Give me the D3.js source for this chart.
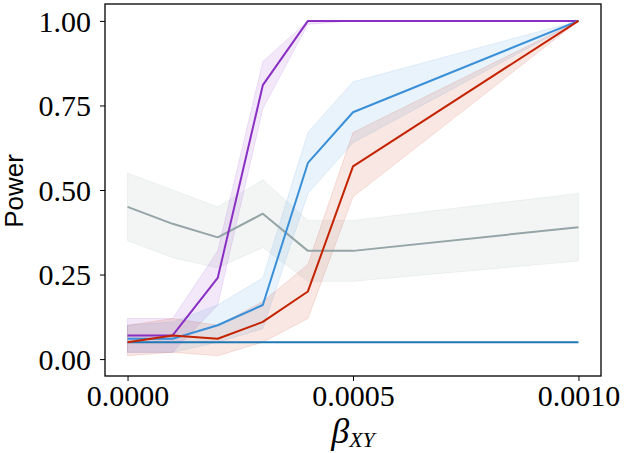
<!DOCTYPE html>
<html>
<head>
<meta charset="utf-8">
<script src="https://cdn.jsdelivr.net/npm/d3@7"></script>
<style>
  body { margin: 0; background: #fff; }
  .tick text { font-family: "Liberation Serif", serif; font-size: 30px; fill: #000; }
</style>
</head>
<body>
<svg id="chart" width="625" height="453"></svg>
<script>
'use strict';

var betas = [0, 0.0001, 0.0002, 0.0003, 0.0004, 0.0005, 0.001];
var xTicks = [0, 0.0005, 0.001];
var yTicks = [0, 0.25, 0.5, 0.75, 1];

var nullPower = [0.05, 0.05, 0.05, 0.05, 0.05, 0.05, 0.05];

var purpleMean = [0.07, 0.07, 0.24, 0.81, 1.0, 1.0, 1.0];
var purpleLow  = [0.02, 0.02, 0.16, 0.74, 0.99, 1.0, 1.0];
var purpleHigh = [0.12, 0.12, 0.32, 0.88, 1.0, 1.0, 1.0];

var blueMean = [0.06, 0.06, 0.10, 0.16, 0.58, 0.73, 1.0];
var blueLow  = [0.02, 0.02, 0.05, 0.09, 0.49, 0.64, 1.0];
var blueHigh = [0.10, 0.11, 0.16, 0.24, 0.67, 0.82, 1.0];

var redMean = [0.05, 0.07, 0.06, 0.11, 0.20, 0.57, 1.0];
var redLow  = [0.01, 0.02, 0.01, 0.05, 0.12, 0.48, 1.0];
var redHigh = [0.10, 0.12, 0.10, 0.17, 0.28, 0.67, 1.0];

var grayMean = [0.45, 0.40, 0.36, 0.43, 0.32, 0.32, 0.39];
var grayLow  = [0.35, 0.30, 0.27, 0.33, 0.23, 0.23, 0.29];
var grayHigh = [0.55, 0.50, 0.45, 0.53, 0.41, 0.41, 0.49];

var series = [
  { mean: grayMean, low: grayLow, high: grayHigh, color: "#95a5a6" },
  { mean: nullPower, color: "#1f77b4" },
  { mean: purpleMean, low: purpleLow, high: purpleHigh, color: "#8a2ec4" },
  { mean: blueMean, low: blueLow, high: blueHigh, color: "#3a8fd9" },
  { mean: redMean, low: redLow, high: redHigh, color: "#c42300" }
];

var plotLeft = 105, plotRight = 601, plotTop = 4, plotBottom = 376;

var x = d3.scaleLinear().domain([-0.00005, 0.00105]).range([plotLeft, plotRight]);
var y = d3.scaleLinear().domain([-0.05, 1.05]).range([plotBottom, plotTop]);

var svg = d3.select("#chart");

var area = d3.area()
  .x(function(d) { return x(d.b); })
  .y0(function(d) { return y(d.lo); })
  .y1(function(d) { return y(d.hi); });

var line = d3.line()
  .x(function(d) { return x(d.b); })
  .y(function(d) { return y(d.v); });

var plot = svg.append("g");

// bands first, as fill_between draws under the lines
series.forEach(function(s) {
  if (!s.low) return;
  var pts = betas.map(function(b, i) { return { b: b, lo: s.low[i], hi: s.high[i] }; });
  plot.append("path")
    .datum(pts)
    .attr("d", area)
    .attr("fill", s.color)
    .attr("fill-opacity", 0.11)
    .attr("stroke", s.color)
    .attr("stroke-opacity", 0.12)
    .attr("stroke-width", 1);
});

series.forEach(function(s) {
  var pts = betas.map(function(b, i) { return { b: b, v: s.mean[i] }; });
  plot.append("path")
    .datum(pts)
    .attr("d", line)
    .attr("fill", "none")
    .attr("stroke", s.color)
    .attr("stroke-width", 2)
    .attr("stroke-linejoin", "round");
});

var xAxis = svg.append("g")
  .attr("transform", "translate(0," + plotBottom + ")")
  .call(d3.axisBottom(x).tickValues(xTicks).tickSize(5).tickPadding(4)
    .tickFormat(d3.format(".4f")));

var yAxis = svg.append("g")
  .attr("transform", "translate(" + plotLeft + ",0)")
  .call(d3.axisLeft(y).tickValues(yTicks).tickSize(5).tickPadding(9)
    .tickFormat(d3.format(".2f")));

[xAxis, yAxis].forEach(function(ax) {
  ax.select(".domain").remove();
  ax.selectAll(".tick line").attr("stroke", "#000").attr("stroke-width", 1);
});
yAxis.selectAll(".tick text").attr("dy", "0.34em");

svg.append("rect")
  .attr("x", plotLeft).attr("y", plotTop)
  .attr("width", plotRight - plotLeft).attr("height", plotBottom - plotTop)
  .attr("fill", "none")
  .attr("stroke", "#000")
  .attr("stroke-width", 1.3);

svg.append("text")
  .attr("transform", "translate(23,191) rotate(-90)")
  .attr("text-anchor", "middle")
  .attr("font-family", "Liberation Sans, sans-serif")
  .attr("font-size", 26)
  .text("Power");

var xlab = svg.append("text")
  .attr("x", 353)
  .attr("y", 443)
  .attr("text-anchor", "middle")
  .attr("font-family", "Liberation Serif, serif")
  .attr("font-style", "italic");
xlab.append("tspan").attr("font-size", 36).text("β");
xlab.append("tspan").attr("font-size", 22).attr("dy", 4).text("XY");
</script>
</body>
</html>
